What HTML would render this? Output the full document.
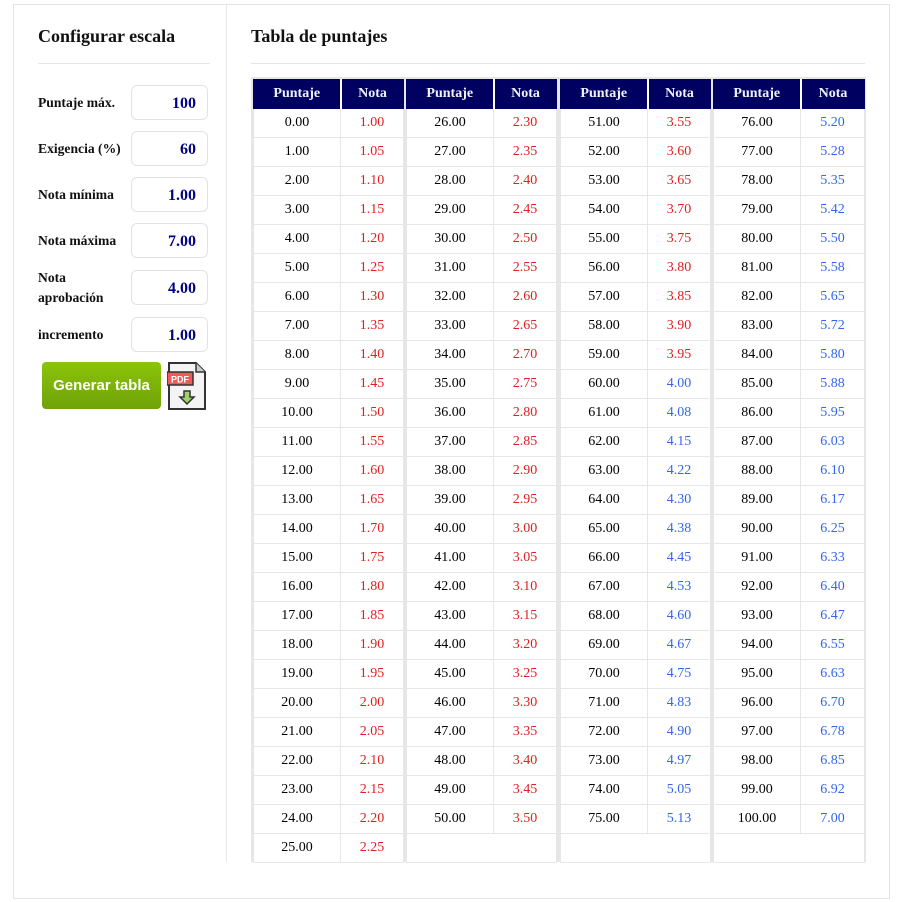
<!DOCTYPE html>
<html><head><meta charset="utf-8"><style>
body{margin:0;width:902px;height:902px;background:#fff;position:relative;font-family:"Liberation Serif",serif;overflow:hidden}
.abs{position:absolute}
.outer{left:13px;top:4px;width:875px;height:893px;border:1px solid #e4e4e4}
.vdiv{left:226px;top:5px;width:1px;height:857px;background:#e8e8e8}
h2{position:absolute;margin:0;font-size:18px;font-weight:bold;color:#111}
.hr{height:1px;background:#e4e4e4}
.lbl{position:absolute;left:38px;font-size:13.6px;font-weight:bold;color:#111;line-height:20px}
.inp{position:absolute;left:131px;width:77px;height:35px;border:1px solid #e2e2e2;border-radius:6px;text-align:right;box-sizing:border-box;padding-right:11px;font-size:16px;font-weight:bold;color:#000080;line-height:35px}
.btn{left:42px;top:362px;width:119px;height:47px;border-radius:4px;background:linear-gradient(#8cc40a,#6ea208);color:#fff;font-family:"Liberation Sans",sans-serif;font-weight:bold;font-size:15px;text-align:center;line-height:47px}
.wrap{left:251px;top:77px;width:615px;height:785px;background:#e5e5ea}
table{position:absolute;border-collapse:collapse;table-layout:fixed;background:#fff;top:2px}
td,th{height:28px;padding:0;text-align:center;font-size:14px;border:1px solid #e6e6e6;line-height:28px}
th{background:#000060;color:#eef2ff;height:26px;border-color:#000060;border-right:2px solid #fff}
th:last-child{border-right:none}
td.r{color:#e02020}td.b{color:#3366ee}
tr.e td{height:28px}
</style></head><body>
<div class="abs outer"></div>
<div class="abs vdiv"></div>
<h2 style="left:38px;top:26px">Configurar escala</h2>
<div class="abs hr" style="left:38px;top:63px;width:172px"></div>
<h2 style="left:251px;top:26px">Tabla de puntajes</h2>
<div class="abs hr" style="left:251px;top:63px;width:614px"></div>
<div class="lbl" style="top:93px">Puntaje máx.</div><div class="inp" style="top:85px">100</div>
<div class="lbl" style="top:139px">Exigencia (%)</div><div class="inp" style="top:131px">60</div>
<div class="lbl" style="top:185px">Nota mínima</div><div class="inp" style="top:177px">1.00</div>
<div class="lbl" style="top:231px">Nota máxima</div><div class="inp" style="top:223px">7.00</div>
<div class="lbl" style="top:268px">Nota<br>aprobación</div><div class="inp" style="top:270px">4.00</div>
<div class="lbl" style="top:325px">incremento</div><div class="inp" style="top:317px">1.00</div>
<div class="abs btn">Generar tabla</div>
<svg class="abs" style="left:167px;top:361px" width="40" height="50" viewBox="0 0 40 50">
<path d="M2 2H29L38 11V48H2Z" fill="#f4f4f4" stroke="#333" stroke-width="2"/>
<path d="M29 2V11H38" fill="#ccc" stroke="#333" stroke-width="1.5"/>
<rect x="0" y="11" width="26" height="13" fill="#f05a5a" stroke="#333" stroke-width="1.5"/>
<text x="13" y="21.5" font-family="Liberation Sans,sans-serif" font-size="9" font-weight="bold" fill="#fff" text-anchor="middle">PDF</text>
<path d="M17 30H23V36H27L20 43L13 36H17Z" fill="#9fd36a" stroke="#333" stroke-width="1.5"/>
</svg>
<div class="abs wrap">
<table style="left:2px;width:150px"><colgroup><col style="width:87px"><col style="width:63px"></colgroup>
<tr><th>Puntaje</th><th>Nota</th></tr>
<tr><td>0.00</td><td class="r">1.00</td></tr><tr><td>1.00</td><td class="r">1.05</td></tr><tr><td>2.00</td><td class="r">1.10</td></tr><tr><td>3.00</td><td class="r">1.15</td></tr><tr><td>4.00</td><td class="r">1.20</td></tr><tr><td>5.00</td><td class="r">1.25</td></tr><tr><td>6.00</td><td class="r">1.30</td></tr><tr><td>7.00</td><td class="r">1.35</td></tr><tr><td>8.00</td><td class="r">1.40</td></tr><tr><td>9.00</td><td class="r">1.45</td></tr><tr><td>10.00</td><td class="r">1.50</td></tr><tr><td>11.00</td><td class="r">1.55</td></tr><tr><td>12.00</td><td class="r">1.60</td></tr><tr><td>13.00</td><td class="r">1.65</td></tr><tr><td>14.00</td><td class="r">1.70</td></tr><tr><td>15.00</td><td class="r">1.75</td></tr><tr><td>16.00</td><td class="r">1.80</td></tr><tr><td>17.00</td><td class="r">1.85</td></tr><tr><td>18.00</td><td class="r">1.90</td></tr><tr><td>19.00</td><td class="r">1.95</td></tr><tr><td>20.00</td><td class="r">2.00</td></tr><tr><td>21.00</td><td class="r">2.05</td></tr><tr><td>22.00</td><td class="r">2.10</td></tr><tr><td>23.00</td><td class="r">2.15</td></tr><tr><td>24.00</td><td class="r">2.20</td></tr><tr><td>25.00</td><td class="r">2.25</td></tr>
</table>
<table style="left:155px;width:150px"><colgroup><col style="width:87px"><col style="width:63px"></colgroup>
<tr><th>Puntaje</th><th>Nota</th></tr>
<tr><td>26.00</td><td class="r">2.30</td></tr><tr><td>27.00</td><td class="r">2.35</td></tr><tr><td>28.00</td><td class="r">2.40</td></tr><tr><td>29.00</td><td class="r">2.45</td></tr><tr><td>30.00</td><td class="r">2.50</td></tr><tr><td>31.00</td><td class="r">2.55</td></tr><tr><td>32.00</td><td class="r">2.60</td></tr><tr><td>33.00</td><td class="r">2.65</td></tr><tr><td>34.00</td><td class="r">2.70</td></tr><tr><td>35.00</td><td class="r">2.75</td></tr><tr><td>36.00</td><td class="r">2.80</td></tr><tr><td>37.00</td><td class="r">2.85</td></tr><tr><td>38.00</td><td class="r">2.90</td></tr><tr><td>39.00</td><td class="r">2.95</td></tr><tr><td>40.00</td><td class="r">3.00</td></tr><tr><td>41.00</td><td class="r">3.05</td></tr><tr><td>42.00</td><td class="r">3.10</td></tr><tr><td>43.00</td><td class="r">3.15</td></tr><tr><td>44.00</td><td class="r">3.20</td></tr><tr><td>45.00</td><td class="r">3.25</td></tr><tr><td>46.00</td><td class="r">3.30</td></tr><tr><td>47.00</td><td class="r">3.35</td></tr><tr><td>48.00</td><td class="r">3.40</td></tr><tr><td>49.00</td><td class="r">3.45</td></tr><tr><td>50.00</td><td class="r">3.50</td></tr><tr class="e"><td colspan="2"></td></tr>
</table>
<table style="left:309px;width:150px"><colgroup><col style="width:87px"><col style="width:63px"></colgroup>
<tr><th>Puntaje</th><th>Nota</th></tr>
<tr><td>51.00</td><td class="r">3.55</td></tr><tr><td>52.00</td><td class="r">3.60</td></tr><tr><td>53.00</td><td class="r">3.65</td></tr><tr><td>54.00</td><td class="r">3.70</td></tr><tr><td>55.00</td><td class="r">3.75</td></tr><tr><td>56.00</td><td class="r">3.80</td></tr><tr><td>57.00</td><td class="r">3.85</td></tr><tr><td>58.00</td><td class="r">3.90</td></tr><tr><td>59.00</td><td class="r">3.95</td></tr><tr><td>60.00</td><td class="b">4.00</td></tr><tr><td>61.00</td><td class="b">4.08</td></tr><tr><td>62.00</td><td class="b">4.15</td></tr><tr><td>63.00</td><td class="b">4.22</td></tr><tr><td>64.00</td><td class="b">4.30</td></tr><tr><td>65.00</td><td class="b">4.38</td></tr><tr><td>66.00</td><td class="b">4.45</td></tr><tr><td>67.00</td><td class="b">4.53</td></tr><tr><td>68.00</td><td class="b">4.60</td></tr><tr><td>69.00</td><td class="b">4.67</td></tr><tr><td>70.00</td><td class="b">4.75</td></tr><tr><td>71.00</td><td class="b">4.83</td></tr><tr><td>72.00</td><td class="b">4.90</td></tr><tr><td>73.00</td><td class="b">4.97</td></tr><tr><td>74.00</td><td class="b">5.05</td></tr><tr><td>75.00</td><td class="b">5.13</td></tr><tr class="e"><td colspan="2"></td></tr>
</table>
<table style="left:462px;width:151px"><colgroup><col style="width:87px"><col style="width:64px"></colgroup>
<tr><th>Puntaje</th><th>Nota</th></tr>
<tr><td>76.00</td><td class="b">5.20</td></tr><tr><td>77.00</td><td class="b">5.28</td></tr><tr><td>78.00</td><td class="b">5.35</td></tr><tr><td>79.00</td><td class="b">5.42</td></tr><tr><td>80.00</td><td class="b">5.50</td></tr><tr><td>81.00</td><td class="b">5.58</td></tr><tr><td>82.00</td><td class="b">5.65</td></tr><tr><td>83.00</td><td class="b">5.72</td></tr><tr><td>84.00</td><td class="b">5.80</td></tr><tr><td>85.00</td><td class="b">5.88</td></tr><tr><td>86.00</td><td class="b">5.95</td></tr><tr><td>87.00</td><td class="b">6.03</td></tr><tr><td>88.00</td><td class="b">6.10</td></tr><tr><td>89.00</td><td class="b">6.17</td></tr><tr><td>90.00</td><td class="b">6.25</td></tr><tr><td>91.00</td><td class="b">6.33</td></tr><tr><td>92.00</td><td class="b">6.40</td></tr><tr><td>93.00</td><td class="b">6.47</td></tr><tr><td>94.00</td><td class="b">6.55</td></tr><tr><td>95.00</td><td class="b">6.63</td></tr><tr><td>96.00</td><td class="b">6.70</td></tr><tr><td>97.00</td><td class="b">6.78</td></tr><tr><td>98.00</td><td class="b">6.85</td></tr><tr><td>99.00</td><td class="b">6.92</td></tr><tr><td>100.00</td><td class="b">7.00</td></tr><tr class="e"><td colspan="2"></td></tr>
</table>
</div>
</body></html>
